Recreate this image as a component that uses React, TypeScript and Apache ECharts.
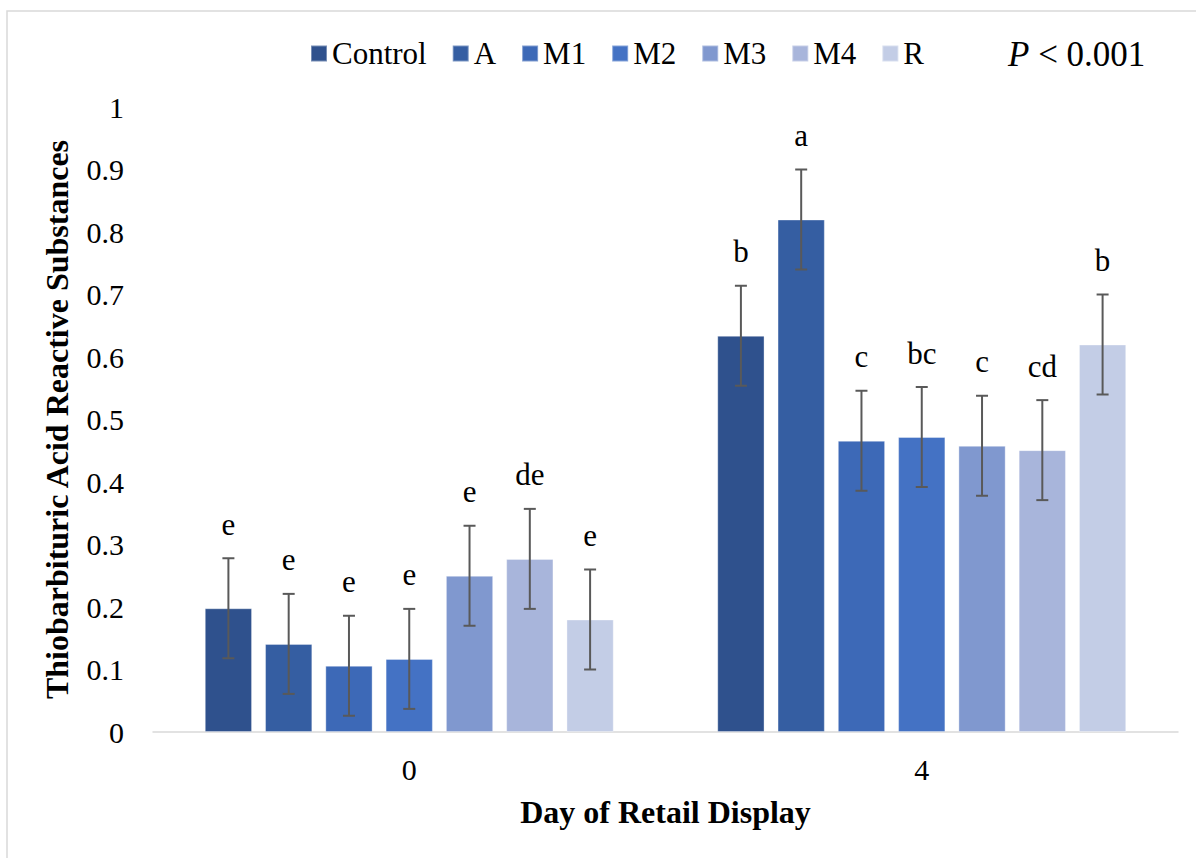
import React, { useEffect, useRef } from "react";
import * as echarts from "echarts";

const categories = ["0", "4"];
const seriesNames = ["Control", "A", "M1", "M2", "M3", "M4", "R"];
const colors = ["#2F518D", "#355EA2", "#3D69B7", "#4472C4", "#8098CF", "#A8B5DB", "#C3CDE6"];
const controlValues = [0.198, 0.634];
const aValues = [0.141, 0.82];
const m1Values = [0.106, 0.466];
const m2Values = [0.117, 0.472];
const m3Values = [0.25, 0.458];
const m4Values = [0.277, 0.451];
const rValues = [0.18, 0.62];
const errorValue = 0.08;
const controlLetters = ["e", "b"];
const aLetters = ["e", "a"];
const m1Letters = ["e", "c"];
const m2Letters = ["e", "bc"];
const m3Letters = ["e", "c"];
const m4Letters = ["de", "cd"];
const rLetters = ["e", "b"];

const allValues = [controlValues, aValues, m1Values, m2Values, m3Values, m4Values, rValues];
const allLetters = [controlLetters, aLetters, m1Letters, m2Letters, m3Letters, m4Letters, rLetters];

const FONT = '"Liberation Serif", "Times New Roman", serif';
const CAT_GAP = 0.202;
const BAR_GAP = 0.275;

export default function App() {
  const ref = useRef<HTMLDivElement>(null);
  useEffect(() => {
    if (!ref.current) return;
    const chart = echarts.init(ref.current, undefined, { renderer: "svg" });
    const n = seriesNames.length;
    const barSeries = seriesNames.map((name, s) => ({
      name,
      type: "bar",
      data: allValues[s],
      itemStyle: { color: colors[s], borderColor: "rgba(255,255,255,0.35)", borderWidth: 1 },
      barGap: BAR_GAP * 100 + "%",
      barCategoryGap: CAT_GAP * 100 + "%",
    }));
    const errSeries = seriesNames.map((name, s) => ({
      name: name + "-err",
      type: "custom",
      z: 5,
      data: allValues[s].map((v, ci) => [ci, v, errorValue]),
      encode: { x: 0, y: 1 },
      renderItem: (params: any, api: any) => {
        const ci = api.value(0);
        const v = api.value(1);
        const e = api.value(2);
        const center = api.coord([ci, v]);
        const band = api.size([1, 0])[0];
        const available = band * (1 - CAT_GAP);
        const bw = available / (n + (n - 1) * BAR_GAP);
        const x = center[0] - available / 2 + bw / 2 + s * bw * (1 + BAR_GAP);
        const top = api.coord([ci, v + e])[1];
        const bottom = api.coord([ci, v - e])[1];
        const style = { stroke: "#595959", lineWidth: 2 };
        return {
          type: "group",
          children: [
            { type: "line", shape: { x1: x, y1: top, x2: x, y2: bottom }, style },
            { type: "line", shape: { x1: x - 6, y1: top, x2: x + 6, y2: top }, style },
            { type: "line", shape: { x1: x - 6, y1: bottom, x2: x + 6, y2: bottom }, style },
            {
              type: "text",
              x,
              y: top - 34,
              style: {
                text: allLetters[s][params.dataIndex],
                fill: "#000",
                font: `31px ${FONT}`,
                align: "center",
                verticalAlign: "middle",
              },
            },
          ],
        };
      },
    }));
    chart.setOption({
      animation: false,
      backgroundColor: "#fff",
      grid: { left: 153, right: 18, top: 107, bottom: 126 },
      legend: {
        data: seriesNames,
        left: 305,
        top: 33,
        icon: "rect",
        itemWidth: 16,
        itemHeight: 16,
        itemGap: 25,
        textStyle: { fontFamily: FONT, fontSize: 31, color: "#000" },
      },
      xAxis: {
        type: "category",
        data: categories,
        axisLine: { lineStyle: { color: "#D9D9D9", width: 1.5 } },
        axisTick: { show: false },
        axisLabel: { fontFamily: FONT, fontSize: 30, color: "#000", margin: 22 },
        name: "Day of Retail Display",
        nameLocation: "middle",
        nameGap: 64,
        nameTextStyle: { fontFamily: FONT, fontSize: 32, fontWeight: "bold", color: "#000" },
      },
      yAxis: {
        type: "value",
        min: 0,
        max: 1,
        interval: 0.1,
        splitLine: { show: false },
        axisLine: { show: false },
        axisTick: { show: false },
        axisLabel: { fontFamily: FONT, fontSize: 30, color: "#000", margin: 29 },
        name: "Thiobarbituric Acid Reactive Substances",
        nameLocation: "middle",
        nameGap: 80,
        nameRotate: 90,
        nameTextStyle: { fontFamily: FONT, fontSize: 32, fontWeight: "bold", color: "#000" },
      },
      graphic: [
        {
          type: "rect",
          shape: { x: 7, y: 11, width: 1300, height: 1000 },
          style: { fill: "none", stroke: "#D9D9D9", lineWidth: 1.5 },
          silent: true,
        },
        {
          type: "text",
          left: 1008,
          top: 37,
          style: {
            text: "{p|P} < 0.001",
            font: `35px ${FONT}`,
            fill: "#000",
            rich: {
              p: { fontStyle: "italic", fontFamily: FONT, fontSize: 35, fill: "#000" },
            },
          },
        },
      ],
      series: [...barSeries, ...errSeries],
    });
    return () => chart.dispose();
  }, []);
  return (
    <div
      ref={ref}
      style={{ position: "fixed", left: 0, top: 0, width: 1196, height: 858 }}
    />
  );
}
